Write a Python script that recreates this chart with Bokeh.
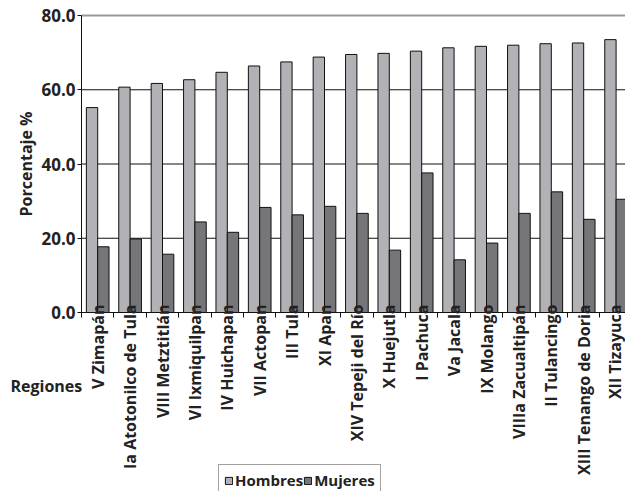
import math
from bokeh.plotting import figure
from bokeh.models import (ColumnDataSource, Range1d, FixedTicker, NumeralTickFormatter,
                          Legend, LegendItem, Label)
from bokeh.transform import dodge
from bokeh.embed import file_html
from bokeh.resources import INLINE

regiones = ["V Zimapán", "Ia Atotonilco de Tula", "VIII Metztitlán", "VI Ixmiquilpan",
            "IV Huichapan", "VII Actopan", "III Tula", "XI Apan", "XIV Tepeji del Río",
            "X Huejutla", "I Pachuca", "Va Jacala", "IX Molango", "VIIIa Zacualtipán",
            "II Tulancingo", "XIII Tenango de Doria", "XII Tizayuca"]
hombres = [55.2, 60.7, 61.7, 62.7, 64.7, 66.4, 67.5, 68.8, 69.5, 69.8,
           70.4, 71.3, 71.7, 72.0, 72.4, 72.6, 73.5]
mujeres = [17.7, 19.8, 15.7, 24.4, 21.6, 28.3, 26.3, 28.6, 26.7, 16.8,
           37.6, 14.2, 18.7, 26.7, 32.5, 25.1, 30.5]
y_ticks = [0, 20, 40, 60, 80]

n = len(regiones)
xs = [i + 0.5 for i in range(n)]
src = ColumnDataSource(dict(x=xs, h=hombres, m=mujeres))

FONT = "Open Sans"
TXT = "#222222"

# frame fills the whole canvas; axes are pinned at x=0 / y=0
W, H = 625, 491
LEFT, TOP, BOTTOM = 81, 15, 312
PX_X = 32.4
PX_Y = (BOTTOM - TOP) / 80
p = figure(width=W, height=H, output_backend="svg", toolbar_location=None,
           x_range=Range1d(-LEFT / PX_X, (W - LEFT) / PX_X),
           y_range=Range1d(-(H - BOTTOM) / PX_Y, 80 + TOP / PX_Y),
           min_border=0, min_border_left=0, min_border_right=0,
           min_border_top=0, min_border_bottom=0)
p.outline_line_color = None
p.background_fill_color = "white"
p.xgrid.visible = False
p.ygrid.visible = False

# horizontal reference lines (inside the plotting area only)
grid_y = y_ticks[1:-1]
p.segment(x0=[0] * len(grid_y), x1=[n] * len(grid_y), y0=grid_y, y1=grid_y,
          line_color="#111111", line_width=1)
p.segment(x0=[0], x1=[n], y0=[y_ticks[-1]], y1=[y_ticks[-1]],
          line_color="#9a9a9a", line_width=2)

r1 = p.vbar(x=dodge("x", -0.175, range=p.x_range), top="h", width=0.35, source=src,
            fill_color="#b2b2b6", line_color="#111111", line_width=1)
r2 = p.vbar(x=dodge("x", 0.175, range=p.x_range), top="m", width=0.35, source=src,
            fill_color="#76767a", line_color="#111111", line_width=1)

ya = p.yaxis[0]
ya.fixed_location = 0
ya.bounds = (y_ticks[0], y_ticks[-1])
ya.ticker = FixedTicker(ticks=y_ticks)
ya.formatter = NumeralTickFormatter(format="0.0")
ya.axis_label = "Porcentaje %"
ya.axis_label_text_font = FONT
ya.axis_label_text_font_style = "bold"
ya.axis_label_text_font_size = "16px"
ya.axis_label_text_color = TXT
ya.axis_label_standoff = 1
ya.major_label_text_font = FONT
ya.major_label_text_font_style = "bold"
ya.major_label_text_font_size = "17px"
ya.major_label_text_color = TXT
ya.major_label_standoff = 2
ya.major_tick_out = 4
ya.major_tick_in = 0
ya.minor_tick_out = 0
ya.minor_tick_in = 0
ya.axis_line_color = "#111111"
ya.major_tick_line_color = "#111111"

xa = p.xaxis[0]
xa.fixed_location = 0
xa.bounds = (0, n)
xa.ticker = FixedTicker(ticks=xs, minor_ticks=list(range(n + 1)))
xa.major_label_overrides = {x: r for x, r in zip(xs, regiones)}
xa.major_label_orientation = math.pi / 2
xa.major_label_text_font = FONT
xa.major_label_text_font_style = "bold"
xa.major_label_text_font_size = "16px"
xa.major_label_text_color = TXT
xa.major_label_standoff = -13
xa.major_tick_out = 0
xa.major_tick_in = 0
xa.minor_tick_out = 5
xa.minor_tick_in = 0
xa.minor_tick_line_color = "#111111"
xa.axis_line_color = "#111111"

p.add_layout(Label(x=10, y=106, x_units="screen", y_units="screen", text="Regiones",
                   text_font=FONT, text_font_style="bold", text_font_size="16px",
                   text_color=TXT, text_baseline="middle"))

legend = Legend(items=[LegendItem(label="Hombres", renderers=[r1]),
                       LegendItem(label="Mujeres", renderers=[r2])],
                orientation="horizontal", location=(218, -5),
                label_text_font=FONT, label_text_font_style="bold",
                label_text_font_size="15px", label_text_color=TXT,
                glyph_width=9, glyph_height=9, spacing=-6, padding=5, margin=0,
                label_standoff=2, border_line_color="#444444",
                background_fill_alpha=1)
p.add_layout(legend)

open("out.html", "w").write(file_html(p, INLINE))
